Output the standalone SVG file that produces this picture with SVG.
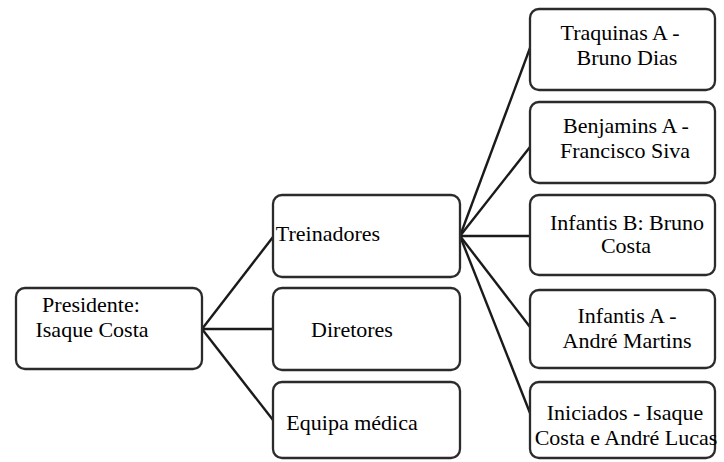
<svg xmlns="http://www.w3.org/2000/svg" width="724" height="462" viewBox="0 0 724 462">
<style>
.box{fill:#fff;stroke:#2b2b2b;stroke-width:2.3}
.c{stroke:#1a1a1a;stroke-width:2.4;fill:none}
.t{font-family:'Liberation Serif','Times New Roman',serif;font-size:22px;fill:#000;text-anchor:middle}
</style>
<rect width="724" height="462" fill="#fff"/>
<g id="connectors">
<line class="c" x1="202" y1="329" x2="273" y2="237"/>
<line class="c" x1="202" y1="329" x2="273" y2="329"/>
<line class="c" x1="202" y1="329" x2="273" y2="420"/>
<line class="c" x1="460" y1="236" x2="530" y2="48"/>
<line class="c" x1="460" y1="236" x2="530" y2="147"/>
<line class="c" x1="460" y1="236" x2="530" y2="236"/>
<line class="c" x1="460" y1="236" x2="530" y2="327"/>
<line class="c" x1="460" y1="236" x2="530" y2="413"/>
</g>
<g id="presidente">
<rect class="box" x="16" y="288" width="186" height="81" rx="9"/>
<text class="t" x="91" y="312" font-size="23.5">Presidente:</text>
<text class="t" x="92" y="337" font-size="23.5">Isaque Costa</text>
</g>
<g id="treinadores">
<rect class="box" x="273" y="195" width="187" height="82" rx="9"/>
<text class="t" x="328" y="241" font-size="21">Treinadores</text>
</g>
<g id="diretores">
<rect class="box" x="273" y="288" width="187" height="82" rx="9"/>
<text class="t" x="352" y="337">Diretores</text>
</g>
<g id="equipa">
<rect class="box" x="273" y="382" width="187" height="76" rx="9"/>
<text class="t" x="352" y="430" font-size="23.5">Equipa médica</text>
</g>
<g id="traquinas">
<rect class="box" x="530" y="9" width="185" height="81" rx="9"/>
<text class="t" x="620" y="40">Traquinas A -</text>
<text class="t" x="627" y="65">Bruno Dias</text>
</g>
<g id="benjamins">
<rect class="box" x="530" y="102" width="185" height="81" rx="9"/>
<text class="t" x="626" y="133">Benjamins A -</text>
<text class="t" x="625" y="158">Francisco Siva</text>
</g>
<g id="infantisB">
<rect class="box" x="530" y="195" width="185" height="80" rx="9"/>
<text class="t" x="627" y="230">Infantis B: Bruno</text>
<text class="t" x="626" y="253" font-size="20">Costa</text>
</g>
<g id="infantisA">
<rect class="box" x="530" y="290" width="185" height="78" rx="9"/>
<text class="t" x="627" y="323" font-size="23">Infantis A -</text>
<text class="t" x="627" y="348">André Martins</text>
</g>
<g id="iniciados">
<rect class="box" x="530" y="382" width="185" height="76" rx="9"/>
<text class="t" x="625" y="420" font-size="23.5">Iniciados - Isaque</text>
<text class="t" x="626" y="445" font-size="23">Costa e André Lucas</text>
</g>
</svg>
